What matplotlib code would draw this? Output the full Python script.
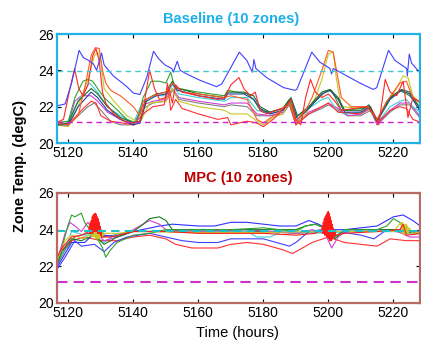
import matplotlib
matplotlib.use('Agg')
import matplotlib.pyplot as plt

plt.rcParams['font.family'] = ['Liberation Sans', 'DejaVu Sans']

# setpoints
upper_sp = 23.95
lower_sp = 21.15
xticks = [5120, 5140, 5160, 5180, 5200, 5220]
yticks = [20, 22, 24, 26]

# ---------------- Baseline (10 zones) ----------------
base_blue_t = [5116.4, 5119, 5121, 5123.3, 5124.6, 5126.2, 5127.7, 5128.7, 5130.2, 5131, 5133.8, 5138, 5140, 5142,
               5144.1, 5146.2, 5147.7, 5149.7, 5151.8, 5152.3, 5153.5, 5154.4, 5156.4, 5160.5, 5165.6, 5167.2,
               5172.6, 5174.9, 5176.6, 5177.1, 5177.7, 5181.0, 5186.2, 5189.7, 5190.3, 5194.9, 5197.4, 5200.5,
               5201.0, 5201.5, 5204.6, 5209.7, 5213.8, 5214.9, 5218.5, 5220.5, 5224.1, 5224.3, 5224.9, 5225.6, 5228.5]
base_blue_v = [22.04, 22.15, 23.3, 25.1, 24.7, 24.55, 24.35, 24.0, 24.95, 24.3, 23.7, 23.1, 22.75, 22.67,
               23.6, 25.05, 24.65, 24.3, 24.1, 23.9, 24.5, 24.0, 23.8, 23.45, 23.1, 23.25,
               25.0, 24.55, 23.9, 24.6, 24.1, 23.6, 23.05, 22.9, 22.95, 25.0, 24.45, 24.1,
               23.8, 24.1, 23.8, 23.3, 22.95, 23.05, 25.1, 24.55, 24.1, 23.7, 24.9, 24.4, 23.8]

base_red_t = [5116, 5118.5, 5120.5, 5121.9, 5123.2, 5124.5, 5126, 5127.5, 5128.5, 5129.5, 5130.5, 5131.5, 5134,
              5137, 5140, 5142, 5143, 5145, 5146.5, 5148, 5150, 5151, 5152, 5153, 5155, 5160, 5166, 5168, 5169,
              5170, 5172.5, 5174, 5176, 5177.5, 5179, 5181, 5184, 5187, 5188.5, 5190, 5191.5, 5193, 5194.5, 5196,
              5198, 5200, 5202, 5204, 5208, 5212, 5214, 5215.5, 5217.5, 5219, 5221, 5223, 5224.5, 5226, 5229]
base_red_v = [21.1, 21.3, 23.0, 24.1, 23.0, 22.6, 23.2, 24.8, 25.2, 24.5, 22.8, 22.2, 21.6,
              21.2, 21.1, 21.2, 21.8, 24.0, 23.0, 22.4, 22.5, 23.0, 22.2, 23.2, 22.8, 22.6, 22.4, 22.5, 22.8,
              23.2, 23.6, 23.0, 22.6, 22.8, 21.8, 21.6, 21.8, 22.0, 22.4, 21.3, 21.0, 22.5, 23.5, 22.8,
              22.5, 22.7, 22.3, 21.8, 21.9, 22.0, 21.6, 21.0, 23.5, 22.8, 22.6, 23.4, 21.4, 22.5, 22.2]

base_orange_t = [5116, 5120, 5123, 5125, 5127, 5128.3, 5129.5, 5130.5, 5131.5, 5133, 5136, 5140, 5142, 5143,
                 5146, 5150, 5152, 5155, 5160, 5168, 5170, 5175, 5178, 5180, 5184, 5188, 5190, 5193, 5195,
                 5198, 5200, 5201.5, 5202.5, 5204, 5207, 5212, 5215, 5218, 5222, 5224, 5226, 5229]
base_orange_v = [21.1, 21.0, 21.5, 23.0, 24.8, 25.25, 25.2, 24.0, 23.3, 22.9, 22.6, 22.0, 21.5, 22.3,
                 22.6, 22.8, 23.3, 22.8, 22.7, 22.5, 22.6, 22.4, 21.3, 21.1, 21.6, 22.2, 21.2, 21.8, 22.5,
                 24.0, 25.1, 25.0, 24.0, 22.5, 22.0, 22.0, 21.3, 22.3, 23.3, 23.4, 22.5, 22.1]

base_yellow_t = [5116, 5120, 5123, 5126, 5128, 5129, 5130, 5131, 5134, 5138, 5142, 5145, 5150, 5152, 5154,
                 5160, 5168, 5170, 5175, 5178, 5180, 5183, 5186, 5188, 5190, 5193, 5196, 5198, 5200, 5201.5,
                 5202.5, 5204, 5210, 5213, 5215, 5218, 5221, 5223, 5224.5, 5226, 5229]
base_yellow_v = [21.0, 20.9, 22.0, 23.5, 24.8, 25.0, 24.5, 23.0, 22.3, 21.5, 21.1, 22.2, 22.3, 23.0, 22.3,
                 22.0, 21.8, 21.6, 21.6, 21.2, 21.0, 21.4, 21.6, 22.3, 21.0, 21.6, 22.5, 23.5, 24.9, 25.0,
                 23.5, 22.0, 21.9, 21.9, 21.2, 22.2, 23.0, 23.7, 23.6, 22.6, 22.0]

base_redlow_t = [5116, 5120, 5124, 5127, 5128.5, 5130, 5133, 5140, 5143, 5146, 5149.5, 5150.5, 5151.5, 5153,
                 5155, 5160, 5166, 5169, 5170, 5175, 5178, 5180, 5183, 5188, 5190, 5194, 5198, 5200, 5203,
                 5210, 5213, 5215, 5219, 5222, 5224, 5226, 5229]
base_redlow_v = [21.1, 21.0, 21.8, 22.3, 22.2, 21.5, 21.2, 21.0, 21.6, 22.0, 22.1, 23.3, 21.8, 22.4,
                 21.9, 21.6, 21.3, 21.4, 21.0, 21.2, 21.1, 20.9, 21.3, 22.2, 21.0, 21.6, 22.0, 22.2, 21.7,
                 21.6, 22.0, 21.1, 21.8, 22.0, 21.9, 21.3, 21.1]

base_green_t = [5116, 5120, 5122, 5124.5, 5126, 5127.5, 5129, 5131, 5134, 5138, 5141, 5143, 5145.5, 5148,
                5150, 5151.5, 5152.5, 5154, 5160, 5168, 5169, 5172, 5175, 5177, 5179, 5182, 5186, 5188, 5190,
                5193, 5196, 5199, 5201, 5204, 5210, 5212, 5215, 5218, 5222, 5225, 5229]
base_green_v = [21.1, 21.2, 22.5, 23.4, 23.5, 23.4, 23.0, 22.5, 22.0, 21.3, 21.1, 22.5, 23.4, 23.4,
                23.3, 23.9, 23.2, 23.0, 22.8, 22.6, 22.9, 22.8, 22.7, 22.4, 21.8, 21.7, 21.9, 22.4, 21.4,
                21.8, 22.3, 22.8, 22.9, 21.8, 21.9, 22.0, 21.2, 22.3, 22.9, 22.6, 21.8]

base_dkgreen_t = [5116, 5120, 5123, 5127, 5129, 5132, 5136, 5140, 5142, 5144, 5147, 5150, 5152, 5153.5,
                  5156, 5160, 5168, 5169, 5174, 5177, 5179, 5182, 5186, 5188.5, 5190.5, 5194, 5198, 5200.5,
                  5203, 5205, 5210, 5212.5, 5215, 5219, 5222.5, 5225, 5229]
base_dkgreen_v = [21.0, 21.1, 22.3, 23.0, 22.7, 22.0, 21.4, 21.1, 21.2, 22.4, 22.7, 22.8, 23.4, 23.0,
                  22.9, 22.7, 22.5, 22.8, 22.8, 22.6, 22.0, 21.7, 21.9, 22.5, 21.5, 22.0, 22.8, 22.95,
                  22.5, 21.8, 21.8, 22.1, 21.3, 22.5, 22.95, 22.8, 21.7]

base_navy_t = [5116, 5120, 5123, 5127, 5129, 5132, 5136, 5140, 5142, 5144, 5147, 5150, 5152, 5153.5,
               5156, 5160, 5168, 5169, 5174, 5177, 5179, 5182, 5186, 5188.5, 5190.5, 5194, 5198, 5200.5,
               5203, 5205, 5210, 5212.5, 5215, 5219, 5222.5, 5225, 5229]
base_navy_v = [21.0, 21.0, 22.0, 22.8, 22.5, 21.8, 21.3, 21.0, 21.1, 22.3, 22.6, 22.7, 23.3, 22.9,
               22.8, 22.6, 22.4, 22.7, 22.7, 22.4, 21.9, 21.6, 21.8, 22.4, 21.3, 21.9, 22.7, 22.9,
               22.4, 21.7, 21.7, 22.0, 21.2, 22.4, 22.9, 22.7, 21.5]

base_cyan_t = [5116, 5120, 5123, 5126.5, 5129, 5132, 5136, 5140, 5143, 5146, 5150, 5152, 5154, 5160, 5168,
               5170, 5175, 5178, 5182, 5186, 5188, 5190, 5194, 5198, 5200, 5203, 5206, 5210, 5213, 5215,
               5219, 5222, 5224, 5226, 5229]
base_cyan_v = [21.1, 21.2, 22.3, 23.3, 22.8, 22.0, 21.5, 21.1, 22.3, 22.6, 22.6, 23.2, 22.7, 22.5, 22.3,
               22.5, 22.5, 21.8, 21.6, 21.8, 22.3, 21.2, 21.9, 22.4, 22.5, 21.7, 21.6, 21.7, 21.9, 21.1,
               22.0, 22.3, 22.4, 22.0, 21.6]

base_magenta_t = [5116, 5120, 5122, 5124, 5127, 5129, 5132, 5136, 5140, 5143, 5146, 5150, 5152, 5154, 5160,
                  5168, 5170, 5175, 5178, 5182, 5186, 5188, 5190, 5194, 5198, 5200, 5203, 5206, 5210, 5213,
                  5215, 5219, 5222, 5225, 5229]
base_magenta_v = [21.0, 21.1, 22.3, 22.6, 22.6, 22.3, 21.7, 21.3, 21.0, 22.1, 22.3, 22.4, 23.0, 22.5, 22.3,
                  22.1, 22.2, 22.2, 21.6, 21.5, 21.7, 22.2, 21.1, 21.7, 22.0, 22.2, 21.9, 21.5, 21.6, 21.9,
                  21.0, 21.8, 22.2, 22.2, 21.3]

base_gray_t = [5116, 5120, 5123, 5126, 5128, 5130, 5133, 5136, 5140, 5143, 5146, 5150, 5152, 5154, 5160,
               5168, 5170, 5175, 5178, 5182, 5186, 5188, 5190, 5194, 5198, 5200, 5203, 5206, 5210, 5213,
               5215, 5219, 5222, 5225, 5229]
base_gray_v = [21.0, 21.0, 21.5, 22.0, 22.2, 21.8, 21.2, 21.0, 21.0, 21.9, 22.2, 22.3, 22.9, 22.4, 22.2,
               22.0, 22.1, 22.0, 21.5, 21.5, 21.6, 22.1, 21.0, 21.6, 21.9, 22.1, 21.8, 21.5, 21.5, 21.8,
               21.0, 21.7, 22.1, 22.1, 21.2]

# ---------------- MPC (10 zones) ----------------
mpc_green_t = [5116, 5118, 5120, 5121, 5122, 5124, 5125, 5127, 5129, 5130.5, 5131.5, 5133, 5135, 5140, 5145,
               5150, 5160, 5170, 5180, 5190, 5193, 5196, 5200, 5202, 5205, 5215, 5218, 5220, 5222, 5224, 5229]
mpc_green_v = [22.0, 23.0, 24.3, 24.8, 24.7, 24.9, 24.4, 23.9, 23.5, 23.0, 22.5, 22.9, 23.3, 23.7, 23.8,
               24.0, 24.0, 24.0, 24.1, 23.9, 24.2, 24.3, 24.0, 23.6, 24.0, 24.0, 24.2, 24.6, 24.4, 23.8, 23.9]

mpc_dkgreen_t = [5116, 5118, 5121, 5124, 5128, 5131, 5135, 5140, 5143, 5145, 5148, 5150, 5152, 5160, 5170,
                 5180, 5190, 5193, 5196, 5200, 5202, 5205, 5220, 5229]
mpc_dkgreen_v = [21.9, 22.8, 23.5, 23.4, 23.7, 23.2, 23.6, 23.9, 24.3, 24.6, 24.7, 24.5, 24.0, 24.0, 24.0,
                 24.0, 24.0, 24.2, 24.3, 24.0, 23.5, 24.0, 24.0, 23.8]

mpc_magenta_t = [5116, 5119, 5120.5, 5122, 5124, 5126, 5128, 5131, 5135, 5140, 5145, 5148, 5150, 5160, 5175,
                 5190, 5195, 5199, 5201, 5203, 5206, 5220, 5225, 5229]
mpc_magenta_v = [22.0, 23.8, 24.4, 24.2, 23.9, 24.4, 23.9, 23.4, 23.6, 24.0, 24.5, 24.3, 24.0, 23.9, 24.0,
                 23.8, 24.0, 23.8, 23.0, 23.6, 24.0, 24.0, 23.6, 23.6]

mpc_blue_t = [5116, 5118, 5121, 5125, 5128, 5131, 5135, 5140, 5148, 5152, 5160, 5165, 5170, 5175, 5180,
              5185, 5190, 5194, 5197, 5200, 5205, 5215, 5220, 5223, 5226, 5229]
mpc_blue_v = [21.8, 22.4, 23.3, 23.3, 23.8, 23.7, 23.6, 23.9, 24.2, 24.3, 24.2, 24.2, 24.4, 24.4, 24.3,
              24.2, 24.2, 24.5, 24.3, 24.0, 24.0, 24.2, 24.7, 24.8, 24.5, 24.1]

mpc_blue2_t = [5116, 5119, 5122, 5124, 5128, 5131, 5134, 5138, 5145, 5150, 5155, 5160, 5166, 5170, 5180,
               5188, 5190, 5194, 5198, 5203, 5210, 5214, 5218, 5222, 5229]
mpc_blue2_v = [21.7, 22.5, 23.4, 23.1, 23.2, 22.8, 23.3, 23.6, 23.8, 23.6, 23.4, 23.3, 23.3, 23.5, 23.5,
               23.1, 23.3, 23.9, 24.0, 23.9, 23.7, 23.5, 24.0, 24.0, 23.9]

mpc_redlow_t = [5116, 5118, 5121, 5125, 5130, 5135, 5140, 5145, 5150, 5153, 5158, 5166, 5170, 5175, 5180,
                5186, 5189, 5192, 5195, 5200, 5205, 5210, 5215, 5219, 5224, 5229]
mpc_redlow_v = [22.2, 22.9, 23.4, 23.6, 23.4, 23.4, 23.6, 23.7, 23.5, 23.2, 23.0, 23.0, 23.2, 23.3, 23.2,
                22.9, 22.7, 23.0, 23.3, 23.6, 23.3, 23.2, 23.1, 23.5, 23.4, 23.4]

# red zone with the oscillating bursts around 5128 h and 5200 h
mpc_red_t = [5116, 5118, 5121, 5124,
             5126.30, 5126.45, 5126.60, 5126.75, 5126.90, 5127.05, 5127.20, 5127.35, 5127.50, 5127.65,
             5127.80, 5127.95, 5128.10, 5128.25, 5128.40, 5128.55, 5128.70, 5128.85, 5129.00, 5129.15,
             5129.30, 5129.45, 5129.60, 5129.75, 5129.90, 5130.05, 5130.20,
             5133, 5140, 5150, 5160, 5170, 5180, 5190, 5196,
             5198.00, 5198.15, 5198.30, 5198.45, 5198.60, 5198.75, 5198.90, 5199.05, 5199.20, 5199.35,
             5199.50, 5199.65, 5199.80, 5199.95, 5200.10, 5200.25, 5200.40, 5200.55, 5200.70, 5200.85,
             5201.00, 5201.15, 5201.30, 5201.45, 5201.60, 5201.75, 5201.90, 5202.05, 5202.20,
             5205, 5215, 5222, 5223, 5224, 5229]
mpc_red_v = [22.3, 23.0, 23.6, 23.7,
             23.9, 24.2, 23.8, 24.4, 23.8, 24.5, 23.8, 24.7, 23.8, 24.8,
             23.9, 24.85, 23.9, 24.9, 23.9, 24.85, 23.9, 24.7, 23.8, 24.6,
             23.8, 24.4, 23.8, 24.2, 23.7, 24.0, 23.6,
             23.6, 23.9, 23.9, 23.8, 23.8, 23.8, 23.7, 23.8,
             24.0, 24.2, 23.8, 24.4, 23.8, 24.6, 23.7, 24.7, 23.7, 24.8,
             23.6, 24.9, 23.6, 25.0, 23.5, 24.9, 23.4, 24.7, 23.4, 24.5,
             23.4, 24.3, 23.5, 24.1, 23.6, 24.0, 23.6, 23.9, 23.7,
             23.8, 23.9, 24.0, 24.3, 23.7, 23.8]

mpc_yellow_t = [5116, 5119, 5121, 5123, 5125, 5126.8,
                5127.0, 5127.2, 5127.4, 5127.6, 5127.8, 5128.0, 5128.2, 5128.4, 5128.6, 5128.8, 5129.0,
                5129.2, 5129.4, 5129.6, 5129.8, 5130.0, 5130.2, 5130.4, 5130.6, 5130.8, 5131.0,
                5135, 5140, 5160, 5180, 5200, 5220,
                5222.4, 5222.6, 5222.8, 5223.0, 5223.2, 5223.4, 5223.6, 5223.8, 5224.0, 5224.2, 5224.4,
                5224.6, 5224.8, 5226, 5229]
mpc_yellow_v = [22.1, 23.4, 23.7, 23.6, 23.5, 23.8,
                24.0, 23.6, 24.1, 23.6, 24.1, 23.6, 24.1, 23.5, 24.0, 23.5, 24.0,
                23.5, 23.9, 23.5, 23.9, 23.6, 23.9, 23.6, 23.9, 23.7, 23.8,
                23.8, 23.9, 23.85, 23.85, 23.9, 23.9,
                24.4, 23.8, 24.4, 23.8, 24.3, 23.7, 24.3, 23.8, 24.3, 23.8, 24.2,
                23.8, 24.1, 23.8, 23.9]

mpc_cyan_t = [5116, 5119, 5121, 5125, 5128, 5131, 5134, 5140, 5160, 5175, 5178, 5182, 5186, 5200, 5205, 5229]
mpc_cyan_v = [22.0, 23.0, 23.9, 23.7, 23.7, 23.3, 23.7, 23.9, 23.95, 23.9, 23.6, 23.6, 23.9, 23.8, 23.9, 23.9]

mpc_gray_t = [5116, 5119, 5122, 5126, 5130, 5134, 5140, 5150, 5160, 5170, 5180, 5190, 5200, 5210, 5220, 5229]
mpc_gray_v = [21.9, 22.9, 23.6, 23.8, 23.6, 23.7, 23.9, 23.9, 23.85, 23.9, 23.9, 23.8, 23.9, 23.9, 23.9, 23.8]

base_series = [
    (base_gray_t, base_gray_v, '#808080'),
    (base_magenta_t, base_magenta_v, '#d040d0'),
    (base_cyan_t, base_cyan_v, '#40d0d8'),
    (base_yellow_t, base_yellow_v, '#c8c828'),
    (base_redlow_t, base_redlow_v, '#ff3030'),
    (base_green_t, base_green_v, '#30a030'),
    (base_navy_t, base_navy_v, '#2040a0'),
    (base_dkgreen_t, base_dkgreen_v, '#1a6a2a'),
    (base_orange_t, base_orange_v, '#ff5a20'),
    (base_red_t, base_red_v, '#ff2828'),
    (base_blue_t, base_blue_v, '#4040ff'),
]
mpc_series = [
    (mpc_gray_t, mpc_gray_v, '#606060'),
    (mpc_cyan_t, mpc_cyan_v, '#40d0d8'),
    (mpc_redlow_t, mpc_redlow_v, '#ff3030'),
    (mpc_blue2_t, mpc_blue2_v, '#4040ff'),
    (mpc_blue_t, mpc_blue_v, '#3030ff'),
    (mpc_magenta_t, mpc_magenta_v, '#d040d0'),
    (mpc_dkgreen_t, mpc_dkgreen_v, '#1a7a1a'),
    (mpc_green_t, mpc_green_v, '#30a030'),
    (mpc_yellow_t, mpc_yellow_v, '#c8c828'),
    (mpc_red_t, mpc_red_v, '#ff1a1a'),
]

fig = plt.figure(figsize=(4.21, 3.42), dpi=100)
ax1 = fig.add_axes([57 / 421, 1 - 143 / 342, 363 / 421, 109 / 342])
ax2 = fig.add_axes([57 / 421, 1 - 303 / 342, 363 / 421, 110 / 342])


def style_axes(ax, frame_color):
    ax.set_xlim(5116.5, 5228.2)
    ax.set_ylim(20, 26)
    ax.set_xticks(xticks)
    ax.set_yticks(yticks)
    ax.tick_params(direction='in', top=True, right=True, length=3, labelsize=10, pad=2)
    for s in ax.spines.values():
        s.set_color(frame_color)
        s.set_linewidth(1.6)


for t, v, c in base_series:
    ax1.plot(t, v, color=c, lw=0.8)
ax1.axhline(upper_sp, color='#40c8d0', ls=(0, (4, 3)), lw=1.0)
ax1.axhline(lower_sp, color='#cc22cc', ls=(0, (4, 3)), lw=1.0)
style_axes(ax1, '#22b2e6')

for t, v, c in mpc_series:
    ax2.plot(t, v, color=c, lw=0.8)
ax2.axhline(upper_sp, color='#20c0c8', ls=(0, (4, 2.5)), lw=1.5)
ax2.axhline(lower_sp, color='#cc33cc', ls=(0, (5, 3)), lw=1.5)
style_axes(ax2, '#b86a64')

fig.text(231.5 / 421, 1 - 18.7 / 342, 'Baseline (10 zones)', color='#1ab0e8', fontsize=10.5,
         fontweight='bold', ha='center', va='center')
fig.text(238 / 421, 1 - 178.3 / 342, 'MPC (10 zones)', color='#c00000', fontsize=10.5,
         fontweight='bold', ha='center', va='center')
fig.text(20 / 421, 1 - 166 / 342, 'Zone Temp. (degC)', fontsize=10.5, fontweight='bold',
         rotation=90, ha='center', va='center')
fig.text(237.5 / 421, 1 - 333 / 342, 'Time (hours)', fontsize=10.5, ha='center', va='center')

fig.savefig('out.png', dpi=100)
